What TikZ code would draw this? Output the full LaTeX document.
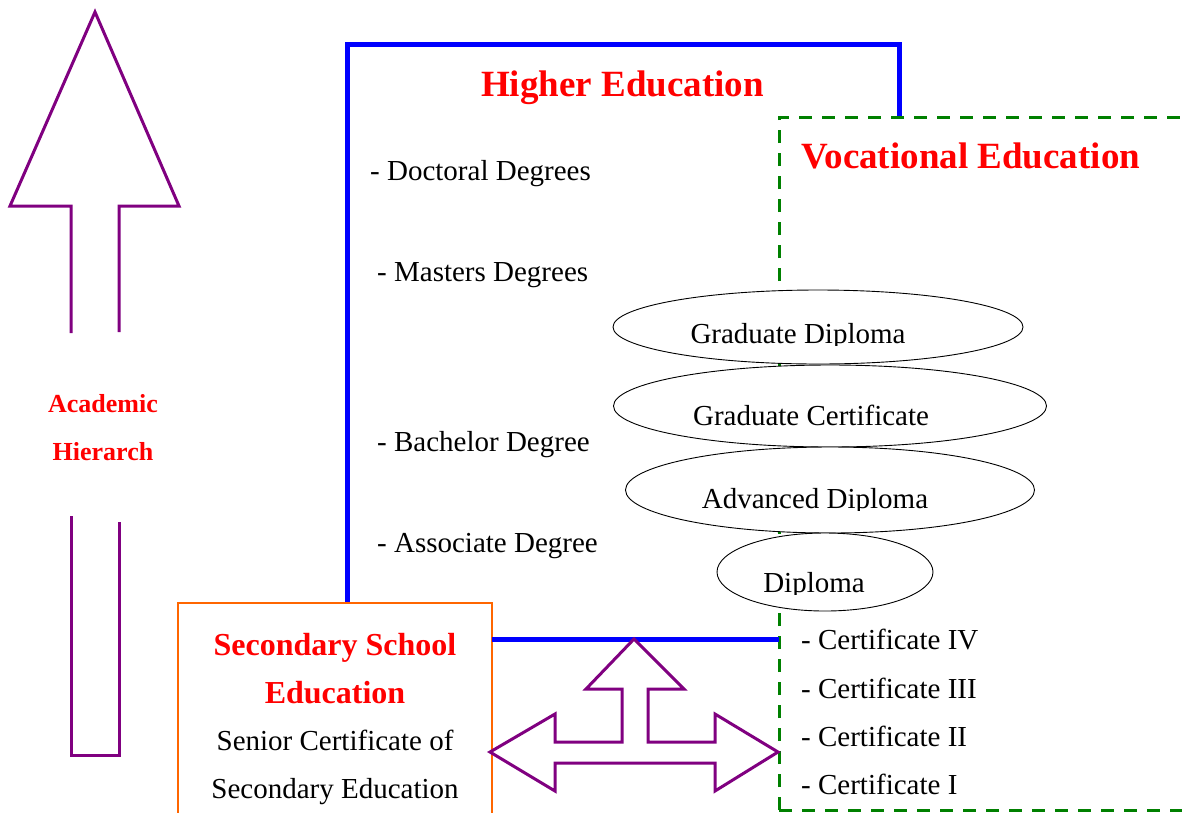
\documentclass[tikz,border=0pt]{standalone}
\usepackage{fontspec}
\setmainfont{Liberation Serif}
\usetikzlibrary{shapes.geometric}
\definecolor{mypurple}{RGB}{128,0,128}
\definecolor{myblue}{RGB}{0,0,255}
\definecolor{mygreen}{RGB}{0,128,0}
\definecolor{myorange}{RGB}{255,102,0}
\definecolor{myred}{RGB}{255,0,0}
\begin{document}
\begin{tikzpicture}[x=1pt,y=-1pt,
  txt/.style={font=\fontsize{29}{34}\selectfont, inner sep=0pt, anchor=base west},
  ctxt/.style={font=\fontsize{29}{34}\selectfont, inner sep=0pt, anchor=base},
  headtxt/.style={font=\bfseries\fontsize{37}{44}\selectfont, text=myred, inner sep=0pt, anchor=base west},
  sectxt/.style={font=\bfseries\fontsize{32}{38}\selectfont, text=myred, inner sep=0pt, anchor=base},
  acadtxt/.style={font=\bfseries\fontsize{26}{31}\selectfont, text=myred, inner sep=0pt, anchor=base},
  ell/.style={ellipse, draw=black, line width=0.9pt, fill=white, inner sep=0pt},
  purpleline/.style={draw=mypurple, line width=3pt, line join=miter},
  blueline/.style={draw=myblue, line width=5pt},
  greendash/.style={draw=mygreen, line width=3pt, dash pattern=on 13pt off 10pt},
  orangebox/.style={draw=myorange, line width=2.2pt}
]
\useasboundingbox (0,0) rectangle (1182,812);

% Academic hierarchy arrow
\draw[purpleline] (71,333) -- (71,206) -- (10,206) -- (95,12) -- (179,206) -- (119,206) -- (119,332);
\draw[purpleline] (71,516) -- (71,755) -- (119,755) -- (119,522);
\node[acadtxt] (acad1) at (103,412) {Academic};
\node[acadtxt] (acad2) at (103,460) {Hierarch};

% Higher education frame
\draw[blueline] (347,603) -- (347,44) -- (899,44) -- (899,117);
\node[headtxt] (higher) at (481,96) {Higher Education};
\node[txt] (doc) at (370,180) {- Doctoral Degrees};
\node[txt] (mas) at (377,281) {- Masters Degrees};
\node[txt] (bac) at (377,451) {- Bachelor Degree};
\node[txt] (ass) at (377,552) {- Associate Degree};

% Vocational frame
\draw[greendash] (779,810) -- (779,117) -- (1195,117);
\draw[greendash] (779,810) -- (1195,810);
\node[headtxt] (voc) at (801,168) {Vocational Education};

% Ellipses
\node[ell, minimum width=410pt, minimum height=74pt] (e1) at (818,327) {};
\node[ell, minimum width=433pt, minimum height=82pt] (e2) at (830,406) {};
\node[ell, minimum width=409pt, minimum height=86pt] (e3) at (830,490) {};
\node[ell, minimum width=216pt, minimum height=78pt] (e4) at (825,572) {};
\begin{scope}
  \clip (600,300) rectangle (1060,345);
  \node[ctxt] (t1) at (798,343) {Graduate Diploma};
\end{scope}
\node[ctxt] (t2) at (811,425) {Graduate Certificate};
\begin{scope}
  \clip (600,470) rectangle (1060,510);
  \node[ctxt] (t3) at (815,508) {Advanced Diploma};
\end{scope}
\begin{scope}
  \clip (600,550) rectangle (1060,594);
  \node[ctxt] (t4) at (814,592) {Diploma};
\end{scope}

% Certificates
\node[txt] (c4) at (801,649) {- Certificate IV};
\node[txt] (c3) at (801,698) {- Certificate III};
\node[txt] (c2) at (801,746) {- Certificate II};
\node[txt] (c1) at (801,794) {- Certificate I};

% Secondary box
\draw[orangebox] (178,603) rectangle (492,840);
\node[sectxt] (s1) at (335,655) {Secondary School};
\node[sectxt] (s2) at (335,703) {Education};
\node[ctxt] (s3) at (335,750) {Senior Certificate of};
\node[ctxt] (s4) at (335,798) {Secondary Education};

% connecting blue line
\draw[blueline] (492,639) -- (779,639);

% three-way arrow
\draw[purpleline, fill=white] (634,639) -- (684,689) -- (648,689) -- (648,742) -- (715,742) -- (715,714) -- (778,752) -- (715,791) -- (715,763) -- (555,763) -- (555,791) -- (490,752) -- (555,714) -- (555,742) -- (622,742) -- (622,689) -- (586,689) -- cycle;
\end{tikzpicture}
\end{document}
